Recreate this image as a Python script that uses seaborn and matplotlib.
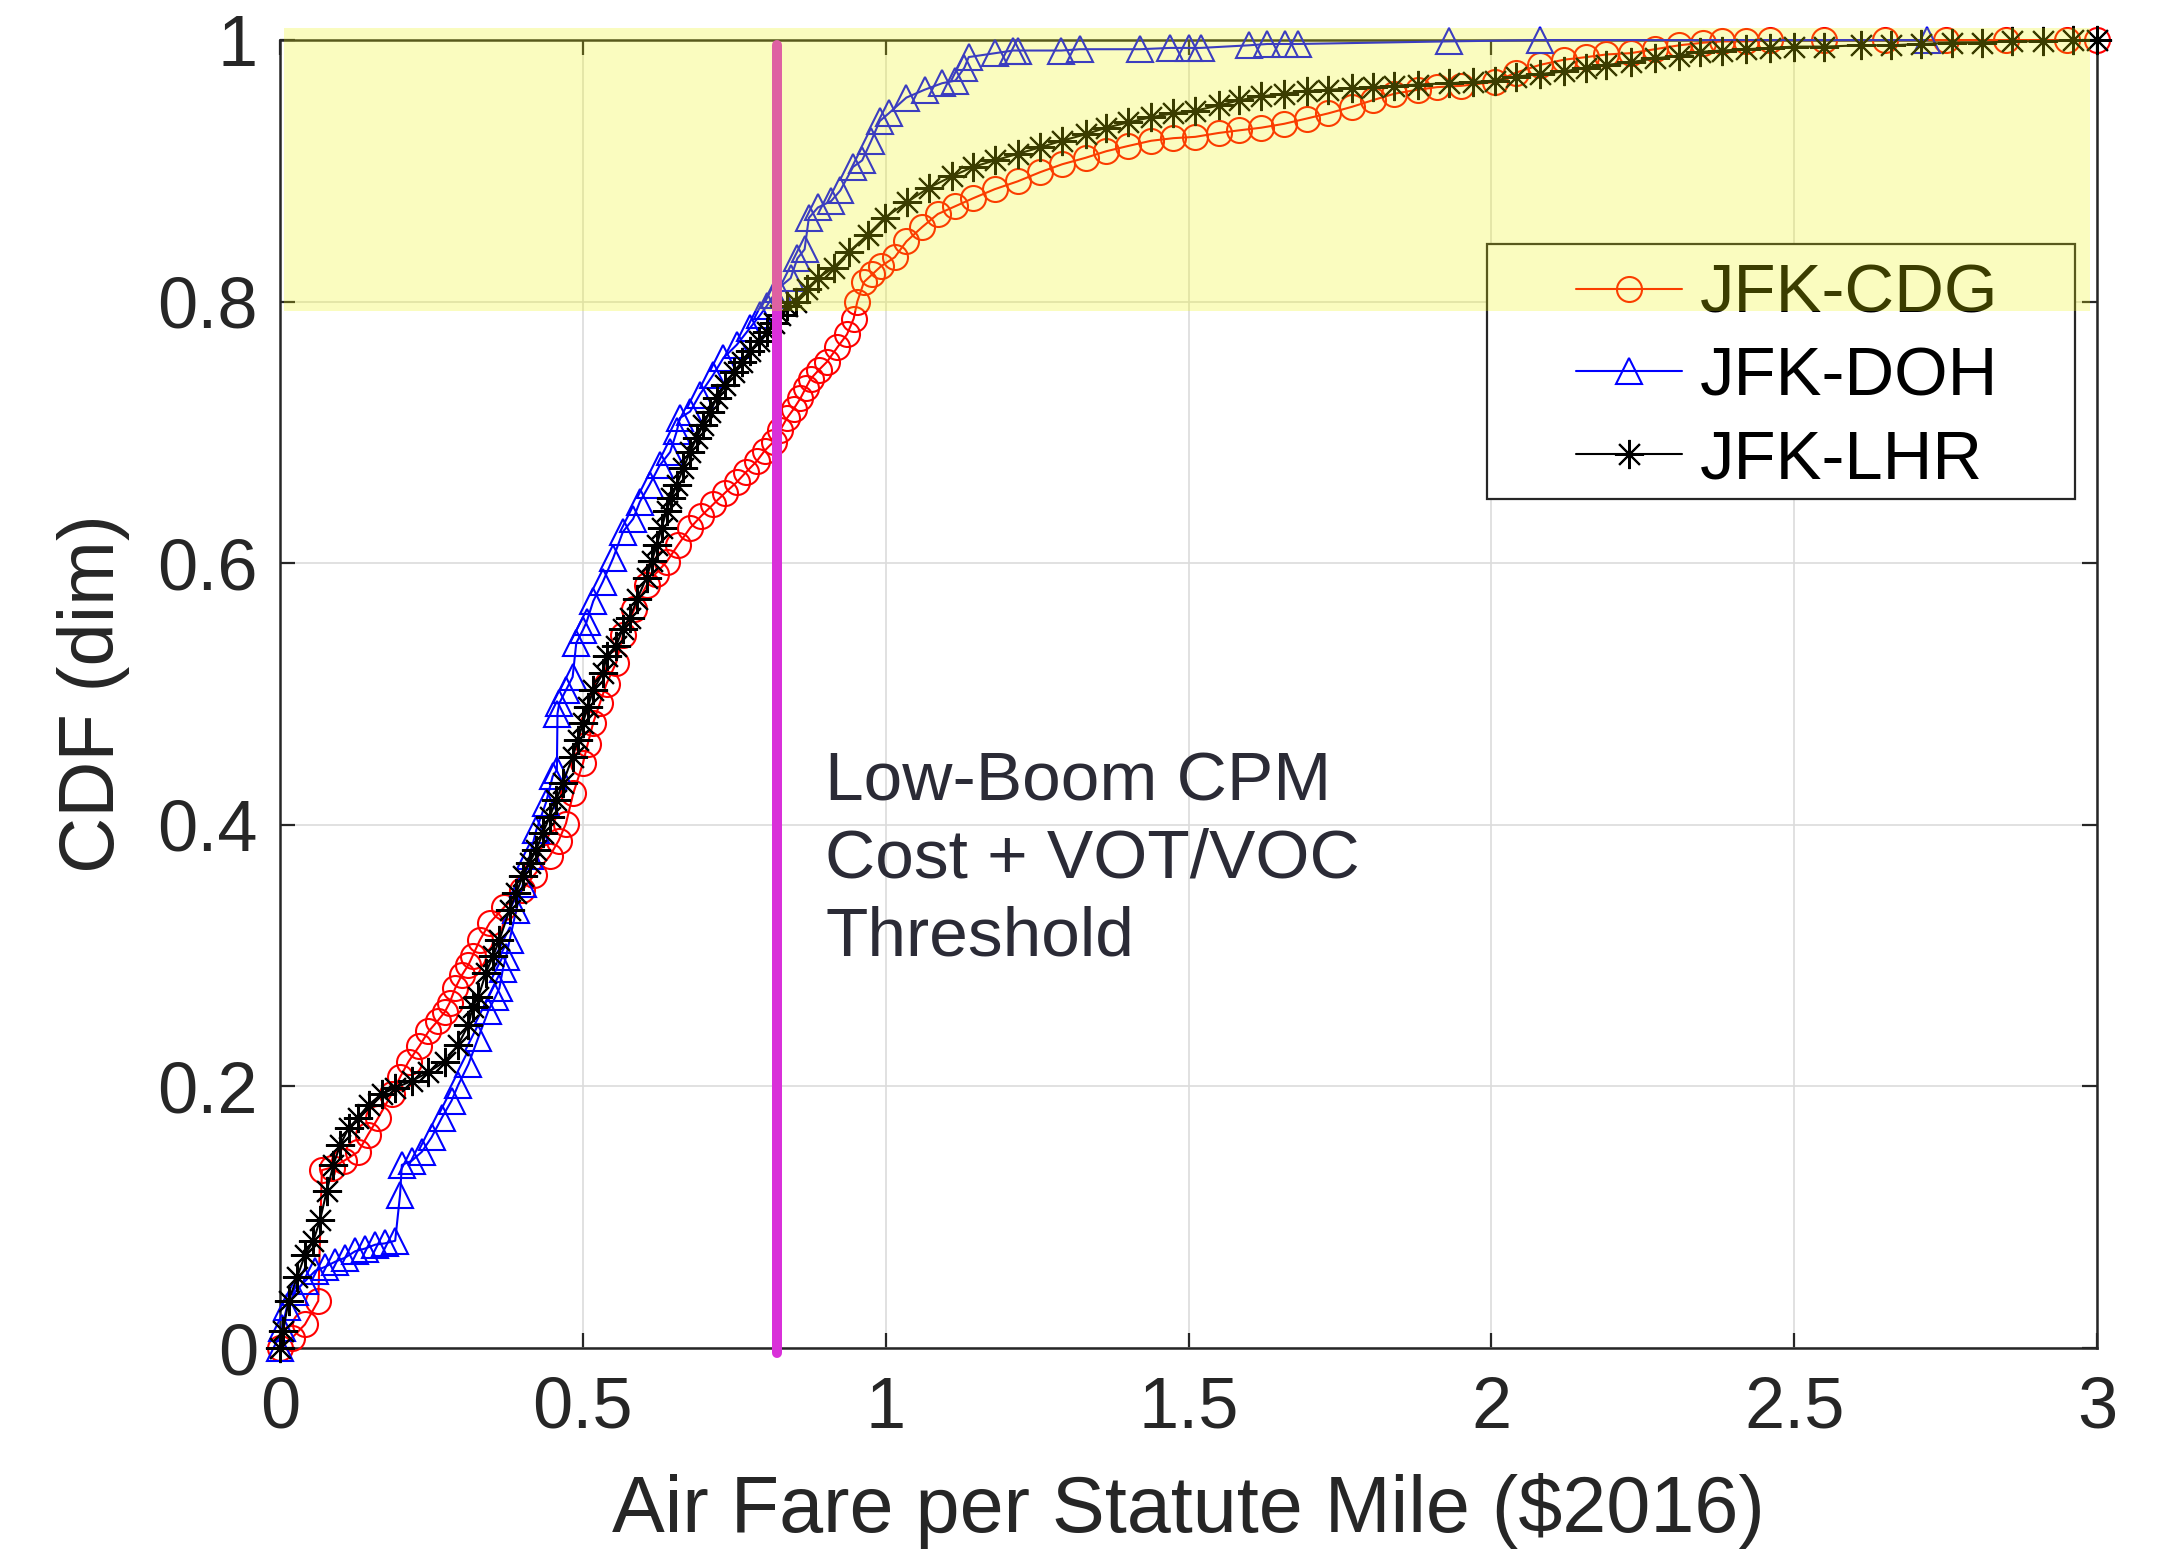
import numpy as np
import pandas as pd
import matplotlib
matplotlib.use("Agg")
import matplotlib.pyplot as plt
from matplotlib.patches import Rectangle
import seaborn as sns

# ---------------- data ----------------
cdg_x = [0.0, 0.02, 0.041, 0.063, 0.069, 0.085, 0.105, 0.129, 0.145, 0.162, 0.184, 0.198, 0.212, 0.23,
         0.245, 0.26, 0.272, 0.28, 0.289, 0.30, 0.311, 0.318, 0.33, 0.346, 0.37, 0.40, 0.42, 0.445, 0.46,
         0.472, 0.484, 0.50, 0.508, 0.517, 0.528, 0.539, 0.555, 0.566, 0.585, 0.605, 0.62, 0.638, 0.657,
         0.677, 0.695, 0.715, 0.735, 0.754, 0.77, 0.787, 0.80, 0.815, 0.826, 0.837, 0.848, 0.859, 0.868,
         0.876, 0.89, 0.903, 0.92, 0.936, 0.947, 0.953, 0.964, 0.978, 0.992, 1.015, 1.034, 1.06, 1.086,
         1.115, 1.144, 1.18, 1.218, 1.255, 1.291, 1.33, 1.364, 1.40, 1.438, 1.475, 1.511, 1.55, 1.584,
         1.62, 1.658, 1.695, 1.731, 1.77, 1.804, 1.84, 1.878, 1.91, 1.95, 2.006, 2.04, 2.08, 2.12, 2.157,
         2.19, 2.23, 2.27, 2.31, 2.35, 2.38, 2.42, 2.46, 2.55, 2.65, 2.75, 2.85, 2.95, 3.0]
cdg_y = [0.0, 0.008, 0.018, 0.036, 0.136, 0.138, 0.143, 0.150, 0.163, 0.176, 0.194, 0.207, 0.219, 0.231,
         0.242, 0.25, 0.257, 0.264, 0.275, 0.285, 0.293, 0.30, 0.312, 0.325, 0.337, 0.350, 0.362, 0.376,
         0.388, 0.401, 0.424, 0.447, 0.462, 0.478, 0.493, 0.508, 0.524, 0.545, 0.565, 0.583, 0.592, 0.601,
         0.614, 0.627, 0.636, 0.645, 0.654, 0.662, 0.67, 0.678, 0.686, 0.693, 0.702, 0.711, 0.718, 0.726,
         0.734, 0.741, 0.748, 0.754, 0.765, 0.775, 0.787, 0.80, 0.815, 0.821, 0.827, 0.834, 0.846, 0.857,
         0.867, 0.873, 0.879, 0.886, 0.892, 0.899, 0.905, 0.91, 0.915, 0.919, 0.923, 0.925, 0.926, 0.929,
         0.931, 0.933, 0.936, 0.94, 0.944, 0.949, 0.954, 0.959, 0.962, 0.964, 0.965, 0.968, 0.975, 0.981,
         0.985, 0.987, 0.989, 0.99, 0.993, 0.996, 0.998, 0.999, 0.999, 1.0, 1.0, 1.0, 1.0, 1.0, 1.0, 1.0]

doh_x = [0.0, 0.003, 0.011, 0.025, 0.041, 0.058, 0.074, 0.091, 0.107, 0.124, 0.14, 0.157, 0.173, 0.19,
         0.198, 0.201, 0.217, 0.234, 0.25, 0.267, 0.283, 0.294, 0.311, 0.327, 0.344, 0.355, 0.362, 0.368,
         0.373, 0.379, 0.39, 0.401, 0.412, 0.423, 0.439, 0.45, 0.457, 0.458, 0.461, 0.472, 0.483, 0.489,
         0.50, 0.506, 0.517, 0.533, 0.55, 0.566, 0.583, 0.594, 0.61, 0.627, 0.644, 0.655, 0.66, 0.677,
         0.693, 0.715, 0.732, 0.754, 0.776, 0.793, 0.804, 0.815, 0.822, 0.843, 0.854, 0.866, 0.873, 0.888,
         0.91, 0.925, 0.946, 0.961, 0.976, 0.99, 1.005, 1.034, 1.064, 1.093, 1.115, 1.13, 1.137, 1.181,
         1.21, 1.218, 1.29, 1.32, 1.42, 1.47, 1.50, 1.52, 1.60, 1.63, 1.66, 1.68, 1.93, 2.08, 2.72]
doh_y = [0.0, 0.015, 0.031, 0.043, 0.051, 0.059, 0.062, 0.066, 0.069, 0.074, 0.076, 0.079, 0.08, 0.082,
         0.117, 0.14, 0.143, 0.150, 0.161, 0.176, 0.189, 0.201, 0.217, 0.237, 0.258, 0.268, 0.275, 0.29,
         0.299, 0.312, 0.335, 0.355, 0.376, 0.396, 0.417, 0.437, 0.442, 0.485, 0.493, 0.503, 0.513, 0.539,
         0.549, 0.555, 0.571, 0.586, 0.604, 0.624, 0.634, 0.647, 0.66, 0.675, 0.685, 0.701, 0.711, 0.716,
         0.729, 0.744, 0.757, 0.767, 0.78, 0.79, 0.797, 0.805, 0.81, 0.818, 0.833, 0.840, 0.864, 0.872,
         0.877, 0.885, 0.903, 0.908, 0.923, 0.938, 0.944, 0.956, 0.962, 0.967, 0.969, 0.979, 0.987, 0.99,
         0.992, 0.992, 0.992, 0.993, 0.993, 0.994, 0.994, 0.994, 0.996, 0.997, 0.997, 0.997, 0.999, 1.0, 1.0]

lhr_x = [0.0, 0.005, 0.014, 0.028, 0.041, 0.055, 0.066, 0.077, 0.088, 0.099, 0.113, 0.129, 0.146, 0.168,
         0.19, 0.217, 0.245, 0.272, 0.294, 0.311, 0.318, 0.327, 0.34, 0.352, 0.362, 0.379, 0.39, 0.401,
         0.412, 0.423, 0.434, 0.445, 0.456, 0.467, 0.483, 0.492, 0.50, 0.508, 0.517, 0.533, 0.539, 0.555,
         0.566, 0.577, 0.59, 0.605, 0.614, 0.622, 0.63, 0.638, 0.646, 0.655, 0.666, 0.677, 0.688, 0.699,
         0.71, 0.721, 0.735, 0.749, 0.762, 0.776, 0.79, 0.804, 0.815, 0.826, 0.837, 0.851, 0.87, 0.888,
         0.914, 0.939, 0.97, 0.998, 1.035, 1.071, 1.11, 1.144, 1.18, 1.218, 1.255, 1.291, 1.33, 1.364,
         1.40, 1.438, 1.475, 1.511, 1.55, 1.584, 1.62, 1.658, 1.695, 1.731, 1.77, 1.804, 1.84, 1.878,
         1.93, 1.97, 2.006, 2.04, 2.08, 2.12, 2.157, 2.19, 2.23, 2.27, 2.31, 2.345, 2.38, 2.42, 2.46, 2.5,
         2.55, 2.61, 2.66, 2.71, 2.76, 2.81, 2.86, 2.91, 2.96, 3.0]
lhr_y = [0.0, 0.013, 0.036, 0.054, 0.071, 0.082, 0.098, 0.12, 0.14, 0.155, 0.168, 0.176, 0.186, 0.194,
         0.199, 0.204, 0.211, 0.219, 0.232, 0.247, 0.261, 0.268, 0.287, 0.30, 0.312, 0.335, 0.348, 0.361,
         0.371, 0.381, 0.394, 0.406, 0.419, 0.432, 0.452, 0.465, 0.478, 0.49, 0.503, 0.516, 0.529, 0.537,
         0.55, 0.558, 0.573, 0.589, 0.602, 0.614, 0.627, 0.64, 0.65, 0.66, 0.673, 0.685, 0.696, 0.706,
         0.716, 0.726, 0.736, 0.746, 0.754, 0.762, 0.77, 0.777, 0.784, 0.79, 0.797, 0.80, 0.81, 0.818,
         0.826, 0.838, 0.851, 0.864, 0.876, 0.887, 0.896, 0.903, 0.908, 0.913, 0.918, 0.923, 0.928, 0.933,
         0.937, 0.941, 0.944, 0.946, 0.95, 0.954, 0.957, 0.959, 0.961, 0.962, 0.963, 0.964, 0.965, 0.966,
         0.967, 0.968, 0.969, 0.972, 0.974, 0.976, 0.979, 0.981, 0.983, 0.986, 0.988, 0.991, 0.992, 0.993,
         0.994, 0.995, 0.995, 0.996, 0.996, 0.997, 0.998, 0.998, 0.999, 0.999, 1.0, 1.0]

routes = ["JFK-CDG", "JFK-DOH", "JFK-LHR"]
threshold = 0.82
threshold_text = "Low-Boom CPM\nCost + VOT/VOC\nThreshold"
x_ticks = [0, 0.5, 1, 1.5, 2, 2.5, 3]
x_tick_labels = ["0", "0.5", "1", "1.5", "2", "2.5", "3"]
y_ticks = [0, 0.2, 0.4, 0.6, 0.8, 1]
y_tick_labels = ["0", "0.2", "0.4", "0.6", "0.8", "1"]
band_low, band_high = 0.793, 1.009

# ---------------- style ----------------
sns.set_style("ticks")
plt.rcParams["font.family"] = ["Liberation Sans", "DejaVu Sans"]

fig = plt.figure(figsize=(10.815, 7.765), dpi=200)
ax = fig.add_axes([0.1295, 0.1320, 0.8400, 0.8422])

styles = {
    "JFK-CDG": dict(color="#FF0000", marker="o", ms=9.0),
    "JFK-DOH": dict(color="#0000FF", marker="^", ms=9.5),
    "JFK-LHR": dict(color="#000000", marker=(8, 2, 0), ms=10.5),
}
series = {"JFK-CDG": (cdg_x, cdg_y), "JFK-DOH": (doh_x, doh_y), "JFK-LHR": (lhr_x, lhr_y)}

for r in routes:
    xs, ys = series[r]
    st = styles[r]
    sns.lineplot(x=xs, y=ys, ax=ax, sort=False, estimator=None,
                 color=st["color"], marker=st["marker"], markersize=st["ms"],
                 markerfacecolor="none", markeredgecolor=st["color"], markeredgewidth=0.75,
                 linewidth=0.75, label=r, clip_on=False, zorder=3)

ax.axvline(threshold, ymin=-0.004, ymax=0.996, color="#D930D9", lw=3.6, zorder=4, clip_on=False)

ax.text(0.90, 0.457, threshold_text, fontsize=25, color="#2B2B36", ha="left", va="top",
        linespacing=1.27, zorder=4)

ax.set_xlim(0, 3)
ax.set_ylim(0, 1)
ax.set_xticks(x_ticks)
ax.set_xticklabels(x_tick_labels)
ax.set_yticks(y_ticks)
ax.set_yticklabels(y_tick_labels)
ax.grid(True, color="#DCDCDC", linewidth=0.6)
ax.set_axisbelow(True)
ax.tick_params(direction="in", length=5.5, width=0.8, top=True, right=True,
               labelsize=26, labelcolor="#262626", color="#262626")
ax.tick_params(axis="x", pad=10)
ax.tick_params(axis="y", pad=8)
for s in ax.spines.values():
    s.set_visible(True)
    s.set_color("#262626")
    s.set_linewidth(0.9)

ax.set_xlabel("Air Fare per Statute Mile ($2016)", fontsize=28.5, color="#262626", labelpad=11)
ax.set_ylabel("CDF (dim)", fontsize=28, color="#262626", labelpad=10)

# legend: frame drawn as a patch, entries via legend
frame = Rectangle((0.664, 0.649), 0.324, 0.195, transform=ax.transAxes, facecolor="white",
                  edgecolor="#262626", lw=0.8, zorder=5, clip_on=False)
ax.add_patch(frame)
handles, labels = ax.get_legend_handles_labels()
leg = ax.legend(handles, labels, loc="center left", bbox_to_anchor=(0.713, 0.742), frameon=False,
                fontsize=24.8, borderpad=0, borderaxespad=0, handlelength=1.55, handletextpad=0.25,
                labelspacing=0.27)
leg.set_zorder(6)
for t in leg.get_texts():
    t.set_color("black")

# translucent yellow highlight band on top of everything
ax.axhspan(band_low, band_high, xmin=0.002, xmax=0.996, facecolor="#EEF500", alpha=0.25,
           lw=0, zorder=10, clip_on=False)

fig.savefig("out.png", dpi=200)
